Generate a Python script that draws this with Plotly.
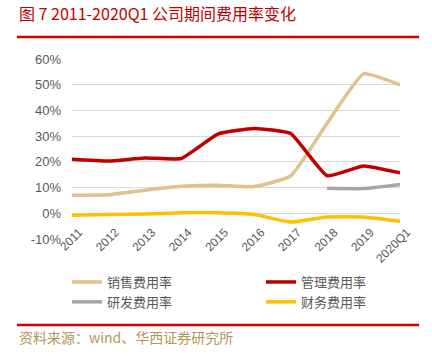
import plotly.graph_objects as go

categories = ["2011", "2012", "2013", "2014", "2015", "2016", "2017", "2018", "2019", "2020Q1"]
sales_rate = [7.0, 7.2, 9.0, 10.5, 10.9, 10.4, 14.5, 35.0, 54.2, 49.9]
admin_rate = [21.0, 20.3, 21.5, 21.3, 30.8, 33.0, 31.0, 14.6, 18.4, 15.7]
rd_rate = [None, None, None, None, None, None, None, 9.7, 9.6, 11.2]
fin_rate = [-0.8, -0.5, -0.3, 0.2, 0.2, -0.5, -3.4, -1.4, -1.4, -3.1]
y_ticks = [-10, 0, 10, 20, 30, 40, 50, 60]
y_tick_labels = ["-10%", "0%", "10%", "20%", "30%", "40%", "50%", "60%"]

# (name, values, colour, legend column)
series = [
    ("销售费用率", sales_rate, "#DFC28F", "legend"),
    ("管理费用率", admin_rate, "#C00000", "legend2"),
    ("研发费用率", rd_rate, "#A6A6A6", "legend"),
    ("财务费用率", fin_rate, "#FFC000", "legend2"),
]

font_cn = "Noto Sans CJK SC, Noto Sans, sans-serif"
font_num = "Liberation Sans, Arial, sans-serif"

W, H = 432, 364
L, R, T, B = 72, 32, 59, 125
PW, PH = W - L - R, H - T - B


def px_x(x):
    return (x - L) / PW


def px_y(y):
    return (H - B - y) / PH


fig = go.Figure()
for name, vals, color, leg in series:
    fig.add_trace(go.Scatter(
        x=categories, y=vals, name=name, mode="lines", legend=leg,
        line=dict(color=color, width=3.5, shape="spline", smoothing=0.4),
        connectgaps=False, hoverinfo="skip",
    ))

legend_common = dict(
    orientation="v", xanchor="left", yanchor="top",
    font=dict(size=13, color="#595959", family=font_cn),
    bgcolor="rgba(0,0,0,0)", tracegroupgap=0, itemwidth=30,
)

fig.update_layout(
    width=W, height=H,
    margin=dict(l=L, r=R, t=T, b=B, autoexpand=False),
    paper_bgcolor="white", plot_bgcolor="white",
    font=dict(family=font_cn, color="#595959", size=12),
    showlegend=True,
    legend=dict(x=px_x(67), y=px_y(267), **legend_common),
    legend2=dict(x=px_x(261), y=px_y(267), **legend_common),
    xaxis=dict(
        type="category", showgrid=False, zeroline=False, showline=False,
        tickangle=-45, ticks="", automargin=False,
        ticklabelstandoff=-17, ticklabelshift=7,
        tickfont=dict(size=12, color="#595959", family=font_num),
    ),
    yaxis=dict(
        range=[-10, 60], tickvals=y_ticks, ticktext=y_tick_labels,
        showgrid=True, gridcolor="#D9D9D9", gridwidth=1,
        zeroline=True, zerolinecolor="#D9D9D9", zerolinewidth=1,
        showline=False, ticks="", automargin=False, ticklabelstandoff=10,
        tickfont=dict(size=13, color="#595959", family=font_num),
    ),
    shapes=[
        dict(type="line", xref="paper", yref="paper",
             x0=px_x(17), x1=px_x(419), y0=px_y(37), y1=px_y(37),
             line=dict(color="#D00000", width=2.5)),
        dict(type="line", xref="paper", yref="paper",
             x0=px_x(17), x1=px_x(419), y0=px_y(325), y1=px_y(325),
             line=dict(color="#D00000", width=2.5)),
    ],
    annotations=[
        dict(text="图 7 2011-2020Q1 公司期间费用率变化", xref="paper", yref="paper",
             x=px_x(17), y=px_y(13), xanchor="left", yanchor="middle",
             showarrow=False, font=dict(size=16, color="#C00000", family=font_cn)),
        dict(text="资料来源：wind、华西证券研究所", xref="paper", yref="paper",
             x=px_x(17), y=px_y(337), xanchor="left", yanchor="middle",
             showarrow=False, font=dict(size=14, color="#B8955A", family=font_cn)),
    ],
)

fig.write_html("out.html", config={"displayModeBar": False},
               post_script="document.body.style.margin='0';")
